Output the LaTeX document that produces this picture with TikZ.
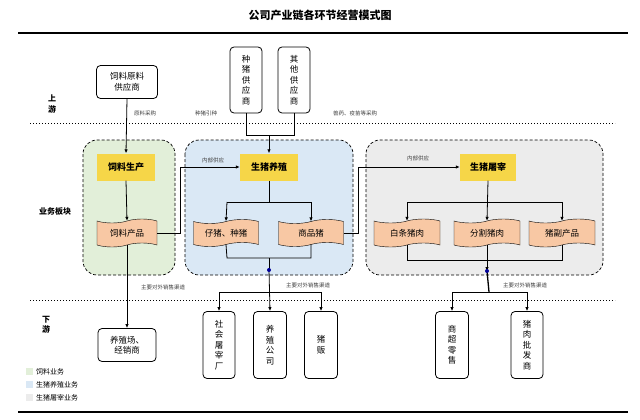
\documentclass[tikz,border=0pt]{standalone}
\usepackage{fontspec}
\setmainfont{Noto Sans CJK SC}
\usetikzlibrary{shapes.symbols,arrows.meta}
\definecolor{rgreen}{RGB}{226,239,217}
\definecolor{rblue}{RGB}{218,232,245}
\definecolor{rgray}{RGB}{236,236,236}
\definecolor{ryel}{RGB}{246,214,72}
\definecolor{rorg}{RGB}{248,200,164}
\begin{document}
\begin{tikzpicture}[x=1pt,y=-1pt,
  txt/.style={font=\fontsize{8.5}{10.5}\selectfont,align=center,inner sep=0},
  small/.style={font=\fontsize{5.5}{6.5}\selectfont,text=black!75,inner sep=0},
  rbox/.style={draw,thick,rounded corners=4pt,txt},
  ybox/.style={fill=ryel,txt,font=\fontsize{9}{11}\selectfont\bfseries},
  ban/.style={tape,draw,fill=rorg,txt,tape bend height=4pt},
  region/.style={draw,densely dashed,line width=0.7pt,rounded corners=14pt},
  arr/.style={-{Latex[length=4pt,width=3.5pt]},thick},
  ln/.style={thick}]
\useasboundingbox (0,0) rectangle (640,420);
\node[font=\fontsize{11}{13}\selectfont\bfseries] (title) at (320,15) {公司产业链各环节经营模式图};
\draw[line width=1.6pt] (18,33) -- (628,33);
\draw[line width=2pt] (18,412) -- (628,412);
\draw[line width=1pt,dotted] (30,123) -- (615,123);
\draw[line width=1pt,dotted] (30,300) -- (615,300);
\node[txt,font=\fontsize{8}{10}\selectfont\bfseries] (up) at (52,104) {上\\游};
\node[txt,font=\fontsize{8}{10}\selectfont\bfseries] (mid) at (55,211) {业务板块};
\node[txt,font=\fontsize{8}{10}\selectfont\bfseries] (down) at (46,325) {下\\游};
% regions
\draw[region,fill=rgreen] (83,140) rectangle (175,275);
\draw[region,fill=rblue] (185,140) rectangle (353,275);
\draw[region,fill=rgray] (366,140) rectangle (603,275);
% upstream
\node[rbox,minimum width=61pt,minimum height=33pt] (fs) at (127,82) {饲料原料\\供应商};
\node[rbox,minimum width=32pt,minimum height=66pt] (zs) at (246,80) {种\\猪\\供\\应\\商};
\node[rbox,minimum width=32pt,minimum height=66pt] (qs) at (294,80) {其\\他\\供\\应\\商};
\node[small] (l1) at (145,113) {原料采购};
\node[small] (l2) at (206,113) {种猪引种};
\node[small] (l3) at (355,113) {兽药、疫苗等采购};
% yellow
\node[ybox,minimum width=58pt,minimum height=27pt] (fp) at (126,167) {饲料生产};
\node[ybox,minimum width=58pt,minimum height=27pt] (yz) at (269,167) {生猪养殖};
\node[ybox,minimum width=56pt,minimum height=27pt] (tz) at (488,167) {生猪屠宰};
% banners
\node[ban,minimum width=60pt,minimum height=28pt] (fprod) at (127,233) {饲料产品};
\node[ban,minimum width=65pt,minimum height=27pt] (zz) at (226,233) {仔猪、种猪};
\node[ban,minimum width=65pt,minimum height=27pt] (sp) at (311,233) {商品猪};
\node[ban,minimum width=66pt,minimum height=28pt] (bt) at (407,233) {白条猪肉};
\node[ban,minimum width=66pt,minimum height=28pt] (fg) at (487,233) {分割猪肉};
\node[ban,minimum width=66pt,minimum height=28pt] (fc) at (562,233) {猪副产品};
\node[small] (n1) at (213,160) {内部供应};
\node[small] (n2) at (418,158) {内部供应};
% feed
\draw[arr] (fs.south) -- (fp.north);
\draw[arr] (fp.south) -- (fprod.north);
\draw[arr] (fprod.east) -- (180,233) -- (180,167) -- (yz.west);
% suppliers
\coordinate (sj) at (269,135);
\draw[ln] (zs.south) -- (246,135) -- (294,135) -- (qs.south);
\draw[arr] (sj) -- (yz.north);
% breeding
\draw[ln] (yz.south) -- (269,202);
\draw[arr] (227,202) -- (zz.north);
\draw[ln] (227,202) -- (311,202);
\draw[arr] (311,202) -- (sp.north);
\coordinate (bj) at (269,270);
\draw[ln] (zz.south) -- (227,258) -- (311,258) -- (sp.south);
\draw[ln] (269,258) -- (bj);
\draw[arr] (sp.east) -- (358,233) -- (358,167) -- (tz.west);
% slaughter
\draw[arr] (tz.south) -- (fg.north);
\draw[arr] (407,202) -- (bt.north);
\draw[ln] (407,202) -- (562,202);
\draw[arr] (562,202) -- (fc.north);
\coordinate (tj) at (487,271);
\draw[ln] (bt.south) -- (407,260) -- (562,260) -- (fc.south);
\draw[arr] (fg.south) -- (tj);
% downstream boxes
\node[rbox,minimum width=58pt,minimum height=33pt] (yc) at (127,345) {养殖场、\\经销商};
\node[rbox,minimum width=32pt,minimum height=67pt] (st) at (219,345) {社\\会\\屠\\宰\\厂};
\node[rbox,minimum width=33pt,minimum height=67pt] (yg) at (270,345) {养\\殖\\公\\司};
\node[rbox,minimum width=33pt,minimum height=67pt] (zf) at (321,345) {猪\\贩};
\node[rbox,minimum width=33pt,minimum height=67pt] (sc) at (452,345) {商\\超\\零\\售};
\node[rbox,minimum width=32pt,minimum height=67pt] (pf) at (527,345) {猪\\肉\\批\\发\\商};
\node[small] (s1) at (163,287) {主要对外销售渠道};
\node[small] (s2) at (308,285) {主要对外销售渠道};
\node[small] (s3) at (525,285) {主要对外销售渠道};
\draw[arr] (fprod.south) -- (yc.north);
\draw[arr] (bj) -- (yg.north);
\draw[ln] (219,292) -- (321,292);
\draw[arr] (219,292) -- (st.north);
\draw[arr] (321,292) -- (zf.north);
\draw[line width=1.3pt] (tj) -- (489,292);
\draw[ln] (452,292) -- (527,292);
\draw[arr] (452,292) -- (sc.north);
\draw[arr] (527,292) -- (pf.north);
\fill[blue!60!black] (bj) circle (2pt);
\fill[blue!60!black] (tj) circle (2pt);
% legend
\fill[rgreen] (26,368) rectangle (33,375);
\fill[rblue] (26,381) rectangle (33,388);
\fill[rgray] (26,394) rectangle (33,401);
\node[txt,anchor=west,font=\fontsize{7}{8}\selectfont] (g1) at (36,371.5) {饲料业务};
\node[txt,anchor=west,font=\fontsize{7}{8}\selectfont] (g2) at (36,384.5) {生猪养殖业务};
\node[txt,anchor=west,font=\fontsize{7}{8}\selectfont] (g3) at (36,397.5) {生猪屠宰业务};
\end{tikzpicture}
\end{document}
